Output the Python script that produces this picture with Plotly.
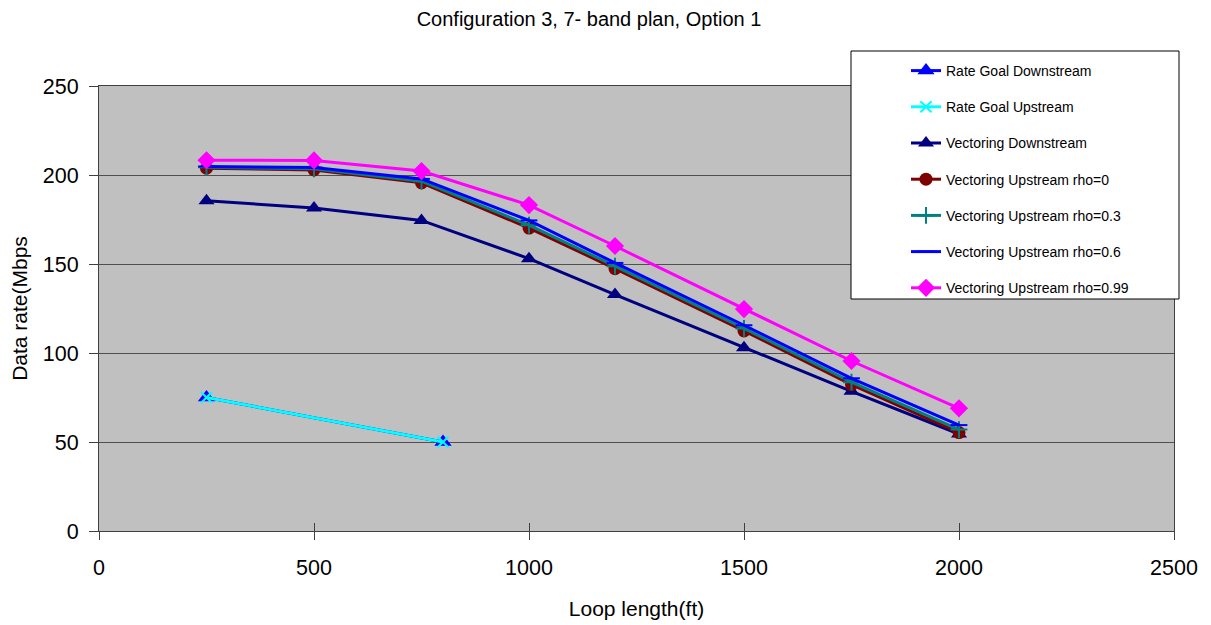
import plotly.graph_objects as go

loop_ft = [250, 500, 750, 1000, 1200, 1500, 1750, 2000]
goal_ft = [250, 800]

rate_goal_ds = [75, 50]
rate_goal_us = [75, 50]
vect_ds = [185.5, 181.5, 174.5, 153, 132.8, 103, 78.5, 54.5]
vect_us_rho0 = [203.8, 202.8, 195.6, 170.2, 147.4, 112.4, 82.2, 55.3]
vect_us_rho03 = [204.3, 203.5, 196.5, 171.8, 148.8, 113.8, 83.6, 57.0]
vect_us_rho06 = [204.8, 204.2, 197.8, 174.5, 150.6, 115.6, 85.8, 59.5]
vect_us_rho099 = [208.3, 208.2, 202.2, 183.1, 160.1, 124.7, 95.5, 68.9]

x_ticks = [0, 500, 1000, 1500, 2000, 2500]
y_ticks = [0, 50, 100, 150, 200, 250]

W, H = 1211, 625
OFF = 8  # page body margin
# desired plot area in screenshot pixels
PL, PR, PT, PB = 99, 1174, 86, 531
L = PL - OFF
T = PT - OFF
R = W - (PR - OFF)
B = H - (PB - OFF)
pw, ph = PR - PL, PB - PT


def px_x(p):
    return (p - PL) / pw


def px_y(p):
    return (PB - p) / ph


series = [
    ("Rate Goal Downstream", goal_ft, rate_goal_ds, "#0000FF",
     dict(symbol="triangle-up", size=15, color="#0000FF")),
    ("Rate Goal Upstream", goal_ft, rate_goal_us, "#00FFFF",
     dict(symbol="x-thin", size=11, color="#00FFFF", line=dict(color="#00FFFF", width=2))),
    ("Vectoring Downstream", loop_ft, vect_ds, "#000080",
     dict(symbol="triangle-up", size=14, color="#000080")),
    ("Vectoring Upstream rho=0", loop_ft, vect_us_rho0, "#800000",
     dict(symbol="circle", size=13, color="#800000")),
    ("Vectoring Upstream rho=0.3", loop_ft, vect_us_rho03, "#008080",
     dict(symbol="cross-thin", size=12, color="#008080", line=dict(color="#008080", width=2))),
    ("Vectoring Upstream rho=0.6", loop_ft, vect_us_rho06, "#0000FF",
     dict(symbol="line-ew", size=12, color="#0000FF", line=dict(color="#0000FF", width=2))),
    ("Vectoring Upstream rho=0.99", loop_ft, vect_us_rho099, "#FF00FF",
     dict(symbol="diamond", size=14, color="#FF00FF")),
]

fig = go.Figure()
for i, (name, xs, ys, col, mk) in enumerate(series):
    fig.add_trace(go.Scatter(
        x=xs, y=ys, name=name, mode="lines+markers",
        line=dict(color=col, width=3), marker=mk,
        legendgroup=f"g{i}",
    ))

# invisible trace for the inner x ticks axis
fig.add_trace(go.Scatter(x=[0], y=[0], xaxis="x2", mode="markers",
                         marker=dict(opacity=0), showlegend=False, hoverinfo="skip"))

FONT = "Liberation Sans, Arial"
axis_font = dict(family=FONT, size=21.5, color="black")

fig.update_layout(
    width=W, height=H,
    margin=dict(l=L, r=R, t=T, b=B, autoexpand=False),
    paper_bgcolor="white",
    plot_bgcolor="#C0C0C0",
    title=dict(text="Configuration 3, 7- band plan, Option 1",
               x=(589 - OFF) / W, xref="container", xanchor="center",
               y=1 - (19 - OFF) / H, yref="container", yanchor="middle",
               font=dict(family=FONT, size=20, color="black")),
    xaxis=dict(range=[0, 2500], tickvals=x_ticks, ticks="outside", ticklen=8,
               tickcolor="#404040", tickwidth=1, ticklabelstandoff=9,
               showline=True, linecolor="#404040", linewidth=1, mirror=True,
               showgrid=False, zeroline=False, tickfont=axis_font, automargin=False,
               title=dict(text="Loop length(ft)", standoff=22,
                          font=dict(family=FONT, size=21, color="black"))),
    xaxis2=dict(range=[0, 2500], tickvals=x_ticks, ticks="inside", ticklen=8,
                tickcolor="#404040", tickwidth=1, overlaying="x", anchor="y",
                side="bottom", showticklabels=False, showgrid=False,
                zeroline=False, showline=False, automargin=False),
    yaxis=dict(range=[0, 250], tickvals=y_ticks, ticks="outside", ticklen=9,
               tickcolor="#404040", tickwidth=1, ticklabelstandoff=6,
               showline=True, linecolor="#404040", linewidth=1, mirror=True,
               showgrid=True, gridcolor="#505050", gridwidth=1,
               zeroline=False, tickfont=axis_font, automargin=False,
               title=dict(text="Data rate(Mbps", standoff=17,
                          font=dict(family=FONT, size=21, color="black"))),
    legend=dict(x=px_x(906), y=px_y(55), xanchor="left", yanchor="top",
                bgcolor="rgba(0,0,0,0)", borderwidth=0,
                font=dict(family=FONT, size=14, color="black"),
                tracegroupgap=15, itemwidth=30),
    shapes=[dict(type="rect", xref="paper", yref="paper",
                 x0=px_x(851), x1=px_x(1179), y0=px_y(299), y1=px_y(51),
                 fillcolor="white", line=dict(color="black", width=1), layer="above")],
    showlegend=True,
)

fig.write_html("out.html")
